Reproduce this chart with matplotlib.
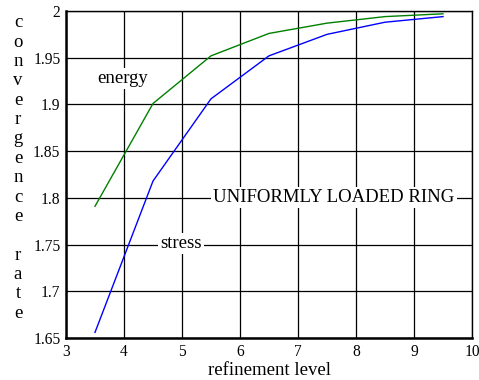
import matplotlib
matplotlib.use("Agg")
import matplotlib.pyplot as plt

plt.rcParams['font.family'] = ['Liberation Serif', 'DejaVu Serif']

level = [3.5, 4.5, 5.5, 6.5, 7.5, 8.5, 9.5]
energy = [1.791, 1.901, 1.952, 1.976, 1.987, 1.994, 1.997]
stress = [1.656, 1.818, 1.906, 1.952, 1.975, 1.988, 1.994]

xticks = [3, 4, 5, 6, 7, 8, 9, 10]
yticks = [1.65, 1.7, 1.75, 1.8, 1.85, 1.9, 1.95, 2]
ylabels = ['1.65', '1.7', '1.75', '1.8', '1.85', '1.9', '1.95', '2']

fig = plt.figure(figsize=(4.79, 3.80), dpi=100)
ax = fig.add_axes([66 / 479, 42 / 380, 406 / 479, 327 / 380])

ax.plot(level, energy, color='#008000', lw=1.0)
ax.plot(level, stress, color='#0000ff', lw=1.0)

ax.set_xlim(3, 10)
ax.set_ylim(1.65, 2)
ax.set_xticks(xticks)
ax.set_yticks(yticks)
ax.set_yticklabels(ylabels)
ax.tick_params(length=0, labelsize=11.2, pad=4)
ax.grid(True, color='black', lw=0.9)
ax.set_axisbelow(True)
for s in ax.spines.values():
    s.set_linewidth(1.0)
ax.spines['left'].set_linewidth(1.8)
ax.spines['bottom'].set_linewidth(1.8)

ax.set_xlabel('refinement level', fontsize=13.5, labelpad=2)

box = dict(facecolor='white', edgecolor='none', pad=1.5)
ax.text(3.98, 1.928, 'energy', fontsize=13.5, ha='center', va='center', bbox=box)
ax.text(4.98, 1.7508, 'stress', fontsize=13.5, ha='center', va='center', bbox=box)
ax.text(7.62, 1.8, 'UNIFORMLY LOADED RING', fontsize=13.5, ha='center', va='center', bbox=box)

fig.text(18 / 479, 1 - 168 / 380, '\n'.join('convergence rate'), fontsize=13.5,
         ha='center', va='center', linespacing=1.18)

fig.savefig('out.png', dpi=100)
